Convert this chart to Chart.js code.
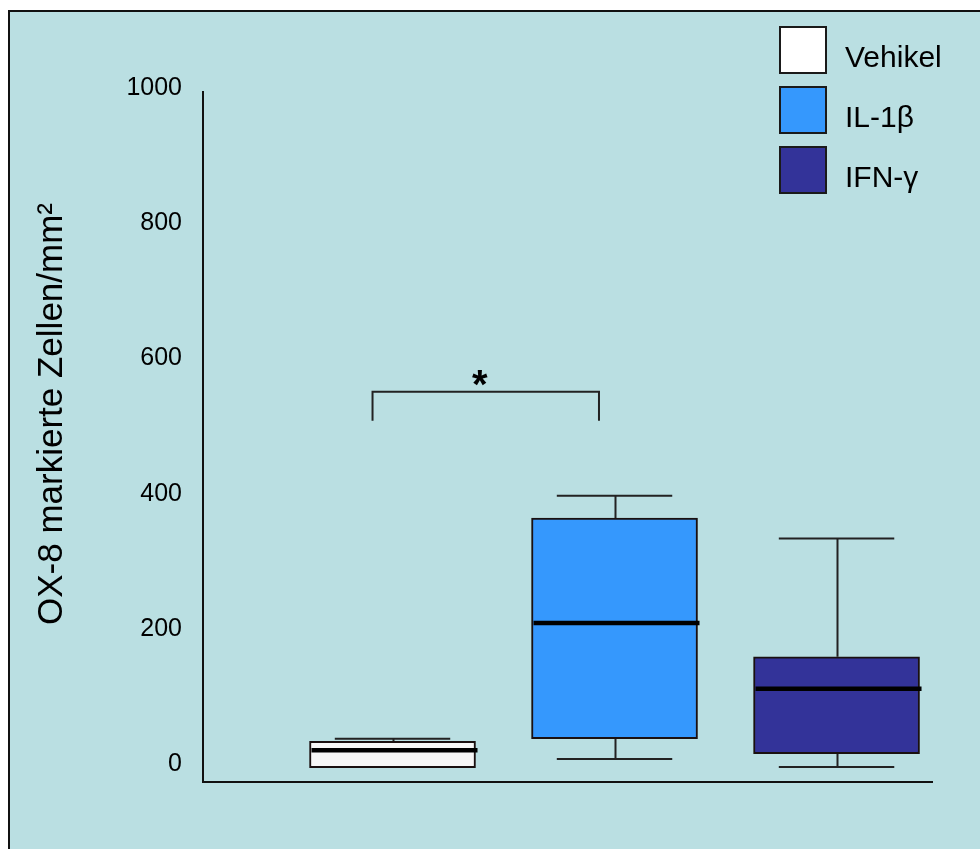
<!DOCTYPE html>
<html>
<head>
<meta charset="utf-8">
<script src="https://cdn.jsdelivr.net/npm/chart.js@4.4.0/dist/chart.umd.min.js"></script>
<style>
  html, body { margin: 0; padding: 0; background: #ffffff; }
  #wrap { width: 980px; height: 849px; }
</style>
</head>
<body>
<div id="wrap"><canvas id="boxChart" width="980" height="849"></canvas></div>
<script>
// groups and box plot statistics
const groups = ['Vehikel', 'IL-1β', 'IFN-γ'];
const groupX = [1, 2, 3];
const whiskerLow = [1, 14, 2];
const quartile1 = [1, 44, 22];
const medians = [27, 215, 118];
const quartile3 = [40, 370, 165];
const whiskerHigh = [44, 403, 340];
const boxColors = ['#f7f7f7', '#3598fd', '#333399'];

const yTicks = [0, 200, 400, 600, 800, 1000];
const yTitle = 'OX-8 markierte Zellen/mm²';

// significance bracket between Vehikel and IL-1β
const bracketX = [0.91, 1.93];
const bracketY = [514, 557];
const bracketLabel = '*';

const FONT = "Arial, 'Liberation Sans', sans-serif";
const BG = '#badfe2';

const boxExtras = {
    id: 'boxExtras',
    beforeDraw(chart) {
        const { ctx, width, height } = chart;
        ctx.save();
        ctx.fillStyle = '#ffffff';
        ctx.fillRect(0, 0, width, height);
        ctx.fillStyle = BG;
        ctx.fillRect(9, 10, width, height);
        ctx.strokeStyle = '#111';
        ctx.lineWidth = 2;
        ctx.beginPath();
        ctx.moveTo(9, height + 5);
        ctx.lineTo(9, 11);
        ctx.lineTo(width + 5, 11);
        ctx.stroke();
        ctx.restore();
    },
    beforeDatasetsDraw(chart) {
        const { ctx, scales: { x, y } } = chart;
        ctx.save();
        ctx.strokeStyle = '#222';
        ctx.lineWidth = 2;
        groupX.forEach((gx, i) => {
            const cx = Math.round(x.getPixelForValue(gx)) + 0.5;
            const capL = x.getPixelForValue(gx - 0.26);
            const capR = x.getPixelForValue(gx + 0.26);
            const pairs = [[quartile3[i], whiskerHigh[i]], [quartile1[i], whiskerLow[i]]];
            pairs.forEach(([from, to]) => {
                if (Math.abs(to - from) < 0.5) return; // no whisker when it sits on the box
                const y0 = y.getPixelForValue(from);
                const y1 = y.getPixelForValue(to);
                ctx.beginPath();
                ctx.moveTo(cx, y0);
                ctx.lineTo(cx, y1);
                ctx.moveTo(capL, y1);
                ctx.lineTo(capR, y1);
                ctx.stroke();
            });
        });
        ctx.restore();
    },
    afterDatasetsDraw(chart) {
        const { ctx, scales: { x, y } } = chart;
        const meta = chart.getDatasetMeta(0);
        ctx.save();
        ctx.strokeStyle = '#000';
        ctx.lineWidth = 4.5;
        meta.data.forEach((bar, i) => {
            const my = y.getPixelForValue(medians[i]);
            ctx.beginPath();
            ctx.moveTo(bar.x - bar.width / 2 + 2, my);
            ctx.lineTo(bar.x + bar.width / 2 + 2, my);
            ctx.stroke();
        });

        // bracket
        const xl = x.getPixelForValue(bracketX[0]);
        const xr = x.getPixelForValue(bracketX[1]);
        const yb = y.getPixelForValue(bracketY[0]);
        const yt = y.getPixelForValue(bracketY[1]);
        ctx.strokeStyle = '#222';
        ctx.lineWidth = 2;
        ctx.beginPath();
        ctx.moveTo(xl, yb);
        ctx.lineTo(xl, yt);
        ctx.lineTo(xr, yt);
        ctx.lineTo(xr, yb);
        ctx.stroke();
        ctx.fillStyle = '#000';
        ctx.font = 'bold 40px ' + FONT;
        ctx.textAlign = 'center';
        ctx.textBaseline = 'alphabetic';
        ctx.fillText(bracketLabel, (xl + xr) / 2 - 6, yt + 6);
        ctx.restore();
    },
    afterDraw(chart) {
        const { ctx } = chart;
        ctx.save();
        // y axis title
        ctx.translate(62, 414);
        ctx.rotate(-Math.PI / 2);
        ctx.fillStyle = '#000';
        ctx.font = '35px ' + FONT;
        ctx.textAlign = 'center';
        ctx.textBaseline = 'alphabetic';
        ctx.fillText(yTitle, 0, 0);
        ctx.restore();

        // legend
        ctx.save();
        ctx.font = '30px ' + FONT;
        ctx.textAlign = 'left';
        ctx.textBaseline = 'alphabetic';
        groups.forEach((name, i) => {
            const top = 27 + i * 60;
            ctx.fillStyle = i === 0 ? '#ffffff' : boxColors[i];
            ctx.fillRect(780, top, 46, 46);
            ctx.strokeStyle = '#1a1a1a';
            ctx.lineWidth = 2;
            ctx.strokeRect(780, top, 46, 46);
            ctx.fillStyle = '#000';
            ctx.fillText(name, 845, top + 40);
        });
        ctx.restore();
    }
};

new Chart(document.getElementById('boxChart'), {
    type: 'bar',
    data: {
        datasets: [{
            label: 'Box',
            data: groupX.map((gx, i) => ({ x: gx, y: [quartile1[i], quartile3[i]] })),
            backgroundColor: boxColors,
            borderColor: '#1a1010',
            borderWidth: 2,
            borderSkipped: false,
            barThickness: 166,
        }],
    },
    options: {
        responsive: false,
        animation: false,
        events: [],
        layout: { padding: { left: 0, right: 48, top: 92, bottom: 67 } },
        plugins: {
            legend: { display: false },
            tooltip: { enabled: false },
        },
        scales: {
            x: {
                type: 'linear',
                min: 0.1464,
                max: 3.430,
                offset: false,
                grid: { display: false, offset: false },
                ticks: { display: false },
                border: { display: true, color: '#111', width: 2 },
                afterFit: s => { s.height = 0; },
            },
            y: {
                type: 'linear',
                min: -20,
                max: 1000,
                grid: { display: false },
                border: { display: true, color: '#111', width: 2 },
                ticks: {
                    color: '#000',
                    padding: 13,
                    labelOffset: -4,
                    font: { family: FONT, size: 25 },
                    callback: v => String(v),
                },
                afterBuildTicks: s => { s.ticks = yTicks.map(v => ({ value: v })); },
                afterFit: s => { s.width = 203; },
            },
        },
    },
    plugins: [boxExtras],
});
</script>
</body>
</html>
